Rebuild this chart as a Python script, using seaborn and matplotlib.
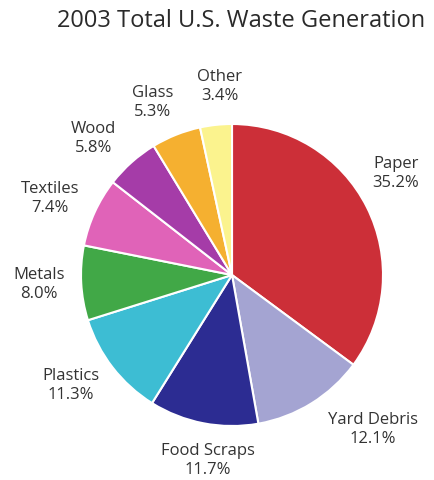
import numpy as np
import matplotlib
matplotlib.use("Agg")
import matplotlib.pyplot as plt
import seaborn as sns

categories = ["Paper", "Yard Debris", "Food Scraps", "Plastics", "Metals",
              "Textiles", "Wood", "Glass", "Other"]
values = [35.2, 12.1, 11.7, 11.3, 8.0, 7.4, 5.8, 5.3, 3.4]
title = "2003 Total U.S. Waste Generation"

colors = sns.color_palette(["#cc2f38", "#a4a4d2", "#2c2c92", "#3dbdd3", "#41a847",
                            "#e063b8", "#a53ca8", "#f5b030", "#fbf38e"])

# layout for label placement (angle shift in degrees, radial distance)
label_shift = [5.4, 10.6, 3.6, -3.6, -0.5, 1.7, 3.6, 2.8, -2.4]
label_dist = [1.28, 1.38, 1.23, 1.29, 1.28, 1.31, 1.29, 1.26, 1.26]

sns.set_theme(style="white")
plt.rcParams['font.family'] = ['Open Sans', 'DejaVu Sans']

W, H = 434, 481
fig = plt.figure(figsize=(W / 100, H / 100), dpi=100)
cx, cy, r = 232, 276, 151
ax = fig.add_axes([(cx - r) / W, (H - cy - r) / H, 2 * r / W, 2 * r / H])

wedges, _ = ax.pie(values, colors=colors, startangle=90, counterclock=False,
                   radius=1.0, wedgeprops=dict(edgecolor="white", linewidth=1.5))
ax.set_xlim(-1, 1)
ax.set_ylim(-1, 1)
ax.set_aspect("equal")
ax.axis("off")

for w, name, v, sh, d in zip(wedges, categories, values, label_shift, label_dist):
    ang = np.deg2rad((w.theta1 + w.theta2) / 2 + sh)
    ax.text(d * np.cos(ang), d * np.sin(ang), f"{name}\n{v:.1f}%",
            ha="center", va="center", fontsize=12, color="#333333",
            linespacing=1.25, clip_on=False)

fig.text(241 / W, 1 - 21 / H, title, ha="center", va="center",
         fontsize=17, color="#2a2a2a")

fig.savefig("out.png", dpi=100, facecolor="white")
